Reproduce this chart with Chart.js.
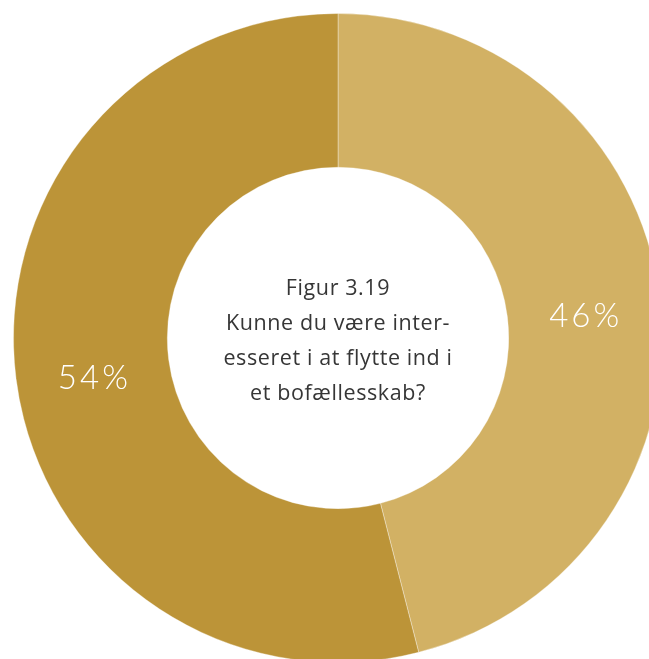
<!DOCTYPE html>
<html lang="da">
<head>
<meta charset="utf-8">
<title>Figur 3.19</title>
<script src="https://cdn.jsdelivr.net/npm/chart.js@4/dist/chart.umd.min.js"></script>
<style>
  html, body { margin: 0; padding: 0; background: #ffffff; overflow: hidden; }
  #wrap { position: absolute; left: 0; top: 0; width: 676px; height: 676px; }
</style>
</head>
<body>
<div id="wrap"><canvas id="chart" width="676" height="676"></canvas></div>
<script>
// Svarfordeling: ja / nej
const categories = ['Ja', 'Nej'];
const shares = [46, 54];
const sliceColors = ['#D2B164', '#BC9438'];
const titleLines = [
  'Figur 3.19',
  'Kunne du være inter-',
  'esseret i at flytte ind i',
  'et bofællesskab?'
];

// Procenttal midt i hvert segment
const sliceLabels = {
  id: 'sliceLabels',
  afterDatasetsDraw(chart) {
    const { ctx } = chart;
    const meta = chart.getDatasetMeta(0);
    ctx.save();
    ctx.font = '300 33px Lato, "Open Sans", sans-serif';
    ctx.letterSpacing = '3px';
    ctx.fillStyle = '#ffffff';
    ctx.textAlign = 'center';
    ctx.textBaseline = 'middle';
    meta.data.forEach((arc, i) => {
      const p = arc.tooltipPosition();
      ctx.fillText(shares[i] + '%', p.x + 2, p.y + 9);
    });
    ctx.restore();
  }
};

// Titeltekst i hullet
const centerTitle = {
  id: 'centerTitle',
  afterDraw(chart) {
    const { ctx } = chart;
    const arc = chart.getDatasetMeta(0).data[0];
    ctx.save();
    ctx.font = '400 21.5px "Open Sans", sans-serif';
    ctx.letterSpacing = '0.6px';
    ctx.fillStyle = '#363636';
    ctx.textAlign = 'center';
    ctx.textBaseline = 'middle';
    const lineH = 35;
    const top = arc.y + 3 - lineH * (titleLines.length - 1) / 2;
    titleLines.forEach((line, i) => {
      ctx.fillText(line, arc.x, top + i * lineH);
    });
    ctx.restore();
  }
};

new Chart(document.getElementById('chart'), {
  type: 'doughnut',
  data: {
    labels: categories,
    datasets: [{
      data: shares,
      backgroundColor: sliceColors,
      borderColor: 'rgba(255,255,255,0.35)',
      borderWidth: 1,
      hoverOffset: 0
    }]
  },
  options: {
    responsive: false,
    animation: false,
    cutout: '52.6%',
    layout: { padding: 13 },
    plugins: {
      legend: { display: false },
      tooltip: { enabled: false }
    }
  },
  plugins: [sliceLabels, centerTitle]
});
</script>
</body>
</html>
